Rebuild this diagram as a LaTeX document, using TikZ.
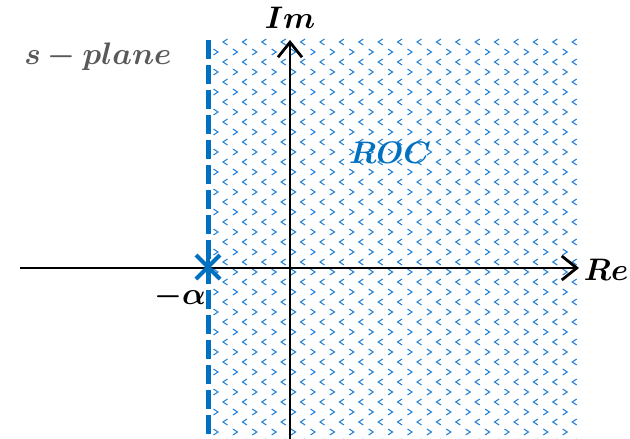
\documentclass[tikz,border=0pt]{standalone}
\usepackage{amsmath}
\usepackage{bm}
\usetikzlibrary{arrows.meta}
\definecolor{rocblue}{RGB}{0,112,192}
\definecolor{patblue}{RGB}{40,130,210}
\definecolor{labgray}{RGB}{89,89,89}
\tikzset{
  axis/.style={line width=2.8pt, black, -{Straight Barb[length=15pt,width=24pt,line width=2.8pt]}},
  boundary/.style={line width=5pt, rocblue, dash pattern=on 19pt off 6pt},
  chev/.style={line width=1.1pt, patblue},
  lab/.style={font=\huge, scale=1.5, transform shape, inner sep=0pt},
  polemark/.style={line width=4pt, rocblue}
}
\begin{document}
\begin{tikzpicture}[x=1pt,y=-1pt]
\useasboundingbox (0,0) rectangle (630,439);
% ROC pattern
\begin{scope}
\clip (212,38) rectangle (577,439);
\foreach \r in {0,...,40}{
  \pgfmathsetmacro{\yy}{42+10*\r}
  \pgfmathtruncatemacro{\odd}{mod(\r,2)}
  \foreach \c in {0,...,19}{
    \ifnum\odd=0
      \pgfmathsetmacro{\xx}{225+19.4*\c}
      \draw[chev] (\xx+2.5,\yy-3) -- (\xx-2,\yy) -- (\xx+2.5,\yy+3);
    \else
      \pgfmathsetmacro{\xx}{216+19.4*\c}
      \draw[chev] (\xx-2.5,\yy-3) -- (\xx+2,\yy) -- (\xx-2.5,\yy+3);
    \fi
  }
}
\end{scope}
% coordinates
\coordinate (reS) at (20,268);
\coordinate (reE) at (579,268);
\coordinate (imS) at (290,439);
\coordinate (imE) at (290,40);
\coordinate (bT) at (208,40);
\coordinate (bB) at (208,439);
\coordinate (pole) at (208,267);
% boundary
\draw[boundary] (bT) -- (bB);
% axes
\draw[axis] (reS) -- (reE);
\draw[axis] (imS) -- (imE);
% pole
\draw[polemark] ([shift={(-12,-12)}]pole) -- ([shift={(12,12)}]pole);
\draw[polemark] ([shift={(-12,12)}]pole) -- ([shift={(12,-12)}]pole);
\draw[polemark] ([shift={(0,-14)}]pole) -- ([shift={(0,14)}]pole);
% labels
\node[lab] (im) at (290,18) {$\bm{Im}$};
\node[lab] (re) at (606,270) {$\bm{Re}$};
\node[lab] (alpha) at (180,297) {$\bm{-\alpha}$};
\node[lab, text=labgray] (splane) at (98,57) {$\bm{s-plane}$};
\node[lab, text=rocblue] (roc) at (390,153) {$\bm{ROC}$};
\end{tikzpicture}
\end{document}
